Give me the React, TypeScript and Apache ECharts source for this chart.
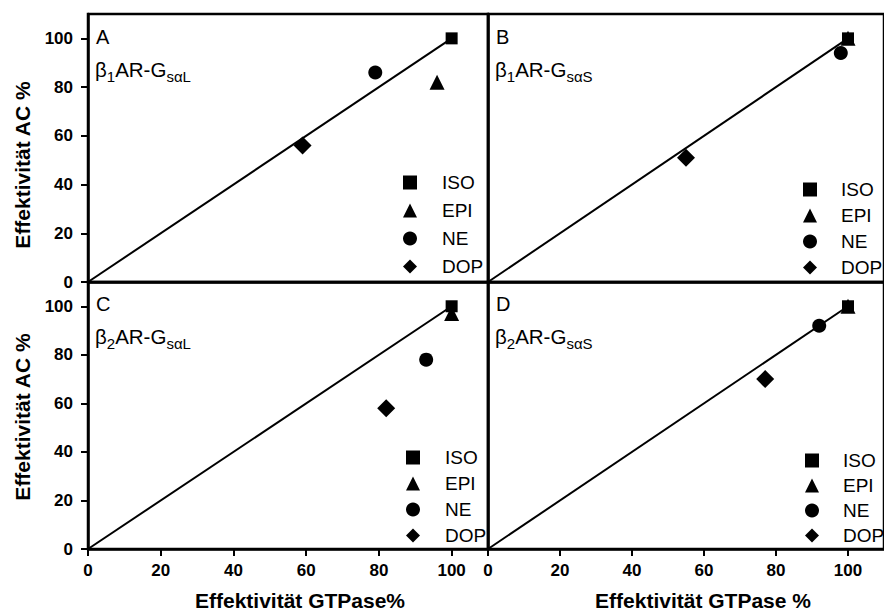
import React, { useEffect, useRef } from "react";
import * as echarts from "echarts";

const drugs = ["ISO", "EPI", "NE", "DOP"];
const panelA = [[100, 100], [96, 82], [79, 86], [59, 56]];
const panelB = [[100, 100], [100, 100], [98, 94], [55, 51]];
const panelC = [[100, 100], [100, 97], [93, 78], [82, 58]];
const panelD = [[100, 100], [100, 100], [92, 92], [77, 70]];
const identityLine = [[0, 0], [100, 100]];
const tickValues = [0, 20, 40, 60, 80, 100];
const panelLetters = ["A", "B", "C", "D"];
const panelReceptor = ["1", "1", "2", "2"];
const panelVariant = ["sαL", "sαS", "sαL", "sαS"];
const yTitle = "Effektivität AC %";
const xTitles = ["Effektivität GTPase%", "Effektivität GTPase %"];

const symbols = ["rect", "triangle", "circle", "diamond"];
const symbolSizes = [12, 15, 14, 18];
const drawOrder = [1, 0, 2, 3];

export default function App() {
  const ref = useRef<HTMLDivElement>(null);
  useEffect(() => {
    document.body.style.margin = "0";
    const chart = echarts.init(ref.current!, null, { renderer: "svg" });
    const FONT = "Liberation Sans, Arial, sans-serif";
    const grids = [
      { left: 88, top: 14, width: 400, height: 268 },
      { left: 488, top: 14, width: 400, height: 268 },
      { left: 88, top: 282, width: 400, height: 267 },
      { left: 488, top: 282, width: 400, height: 267 },
    ].map((g) => ({ ...g, show: true, borderColor: "#000", borderWidth: 2.5 }));
    const panels = [panelA, panelB, panelC, panelD];

    const xAxis = grids.map((_, i) => ({
      type: "value",
      gridIndex: i,
      min: 0,
      max: 110,
      splitLine: { show: false },
      axisLine: { show: true, lineStyle: { color: "#000", width: 2.5 } },
      axisTick: {
        show: i >= 2,
        length: 7,
        lineStyle: { color: "#000", width: 2 },
        customValues: tickValues,
      },
      axisLabel: {
        show: i >= 2,
        customValues: tickValues,
        color: "#000",
        fontFamily: FONT,
        fontWeight: "bold",
        fontSize: 17,
        margin: 13,
      },
    }));
    const yAxis = grids.map((_, i) => ({
      type: "value",
      gridIndex: i,
      min: 0,
      max: 110,
      splitLine: { show: false },
      axisLine: { show: true, lineStyle: { color: "#000", width: 2.5 } },
      axisTick: {
        show: i % 2 === 0,
        length: 7,
        lineStyle: { color: "#000", width: 2 },
        customValues: tickValues,
      },
      axisLabel: {
        show: i % 2 === 0,
        customValues: tickValues,
        color: "#000",
        fontFamily: FONT,
        fontWeight: "bold",
        fontSize: 17,
        margin: 15,
      },
    }));

    const series: any[] = [];
    panels.forEach((data, p) => {
      series.push({
        type: "line",
        name: "identity" + p,
        xAxisIndex: p,
        yAxisIndex: p,
        data: identityLine,
        symbol: "none",
        lineStyle: { color: "#000", width: 2 },
        z: 1,
      });
      drawOrder.forEach((d) => {
        series.push({
          type: "scatter",
          name: drugs[d],
          xAxisIndex: p,
          yAxisIndex: p,
          data: [data[d]],
          symbol: symbols[d],
          symbolSize: symbolSizes[d],
          itemStyle: { color: "#000", opacity: 1 },
          z: 3,
        });
      });
    });

    const legendPos = [
      { left: 403, top: 173, itemGap: 9, pad: 20 },
      { left: 803, top: 180, itemGap: 7, pad: 19 },
      { left: 406, top: 448, itemGap: 7, pad: 20 },
      { left: 805, top: 451, itemGap: 6, pad: 19 },
    ];
    const legend = legendPos.map((pos) => ({
      left: pos.left,
      top: pos.top,
      itemGap: pos.itemGap,
      orient: "vertical",
      padding: 0,
      data: drugs.map((n, k) => ({ name: n, icon: symbols[k], itemStyle: { color: "#000", opacity: 1 } })),
      itemWidth: 14,
      itemHeight: 14,
      selectedMode: false,
      textStyle: {
        color: "#000",
        fontFamily: FONT,
        fontSize: 19,
        padding: [0, 0, 0, pos.pad],
      },
    }));

    const panelOrigins = [
      [96, 27],
      [496, 27],
      [96, 294],
      [496, 294],
    ];
    const graphic: any[] = [];
    panelOrigins.forEach(([x, y], i) => {
      graphic.push({
        type: "text",
        left: x,
        top: y,
        style: { text: panelLetters[i], fontFamily: FONT, fontSize: 20, fill: "#000" },
      });
      graphic.push({
        type: "text",
        left: x - 1,
        top: y + 32,
        style: {
          text: `{m|β}{s|${panelReceptor[i]}}{m|AR-G}{s|${panelVariant[i]}}`,
          fill: "#000",
          rich: {
            m: { fontFamily: FONT, fontSize: 20.5, lineHeight: 22, fill: "#000", verticalAlign: "bottom" },
            s: { fontFamily: FONT, fontSize: 15, lineHeight: 15, fill: "#000", verticalAlign: "bottom", padding: [0, 0, -4, 0] },
          },
        },
      });
    });
    [165, 417].forEach((cy) => {
      graphic.push({
        type: "text",
        x: 22,
        y: cy,
        rotation: Math.PI / 2,
        style: {
          text: yTitle,
          fontFamily: FONT,
          fontWeight: "bold",
          fontSize: 21,
          fill: "#000",
          align: "center",
          verticalAlign: "middle",
        },
      });
    });
    [300, 703].forEach((cx, i) => {
      graphic.push({
        type: "text",
        x: cx,
        y: 600,
        style: {
          text: xTitles[i],
          fontFamily: FONT,
          fontWeight: "bold",
          fontSize: 21,
          fill: "#000",
          align: "center",
          verticalAlign: "middle",
        },
      });
    });

    chart.setOption({
      animation: false,
      backgroundColor: "#fff",
      grid: grids,
      xAxis,
      yAxis,
      series,
      legend,
      graphic,
    });
    return () => chart.dispose();
  }, []);
  return <div ref={ref} style={{ width: 884, height: 613 }} />;
}
